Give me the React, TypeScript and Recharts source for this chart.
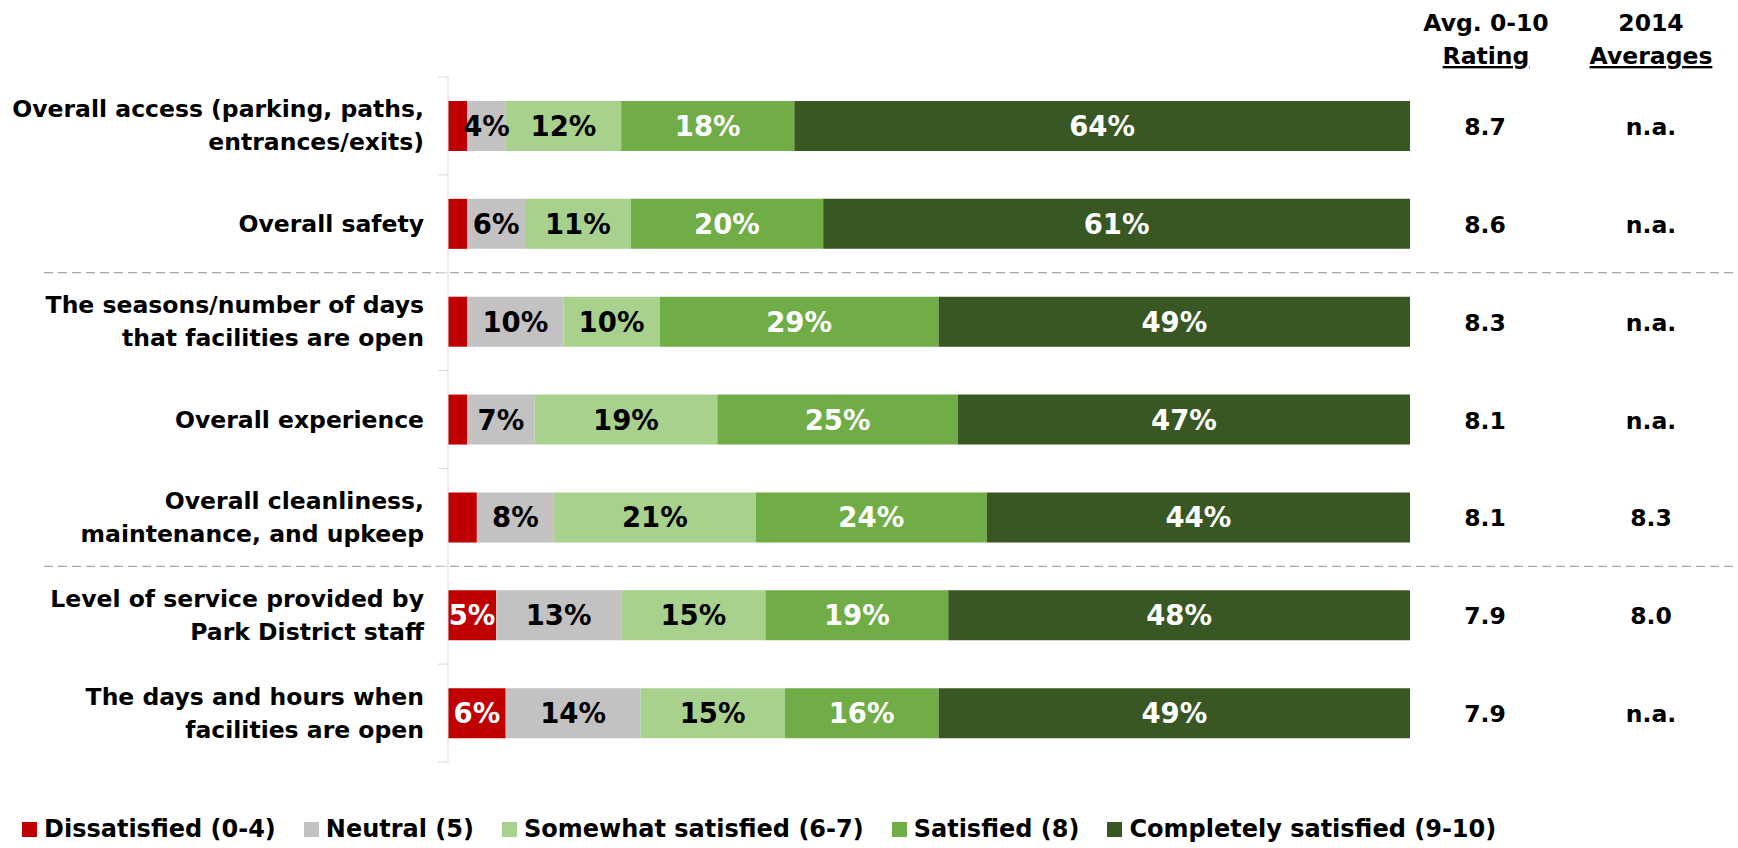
import React from "react";
import {
  BarChart,
  Bar,
  XAxis,
  YAxis,
  Legend,
  LabelList,
  Customized,
} from "recharts";

const categories = [
  "Overall access (parking, paths,\nentrances/exits)",
  "Overall safety",
  "The seasons/number of days\nthat facilities are open",
  "Overall experience",
  "Overall cleanliness,\nmaintenance, and upkeep",
  "Level of service provided by\nPark District staff",
  "The days and hours when\nfacilities are open",
];

const dissatisfied = [2, 2, 2, 2, 3, 5, 6];
const neutral = [4, 6, 10, 7, 8, 13, 14];
const somewhat = [12, 11, 10, 19, 21, 15, 15];
const satisfied = [18, 20, 29, 25, 24, 19, 16];
const completely = [64, 61, 49, 47, 44, 48, 49];

const avgRating = ["8.7", "8.6", "8.3", "8.1", "8.1", "7.9", "7.9"];
const avg2014 = ["n.a.", "n.a.", "n.a.", "n.a.", "8.3", "8.0", "n.a."];

const series = [
  { key: "dissatisfied", name: "Dissatisfied (0-4)", color: "#C00000", text: "#fff", min: 5 },
  { key: "neutral", name: "Neutral (5)", color: "#C3C1C2", text: "#000", min: 3 },
  { key: "somewhat", name: "Somewhat satisfied (6-7)", color: "#A9D18E", text: "#000", min: 3 },
  { key: "satisfied", name: "Satisfied (8)", color: "#70AD47", text: "#fff", min: 3 },
  { key: "completely", name: "Completely satisfied (9-10)", color: "#385723", text: "#fff", min: 3 },
];

const data = categories.map((name, i) => ({
  name,
  dissatisfied: dissatisfied[i],
  neutral: neutral[i],
  somewhat: somewhat[i],
  satisfied: satisfied[i],
  completely: completely[i],
}));

const W = 1738;
const H = 848;
const TOP = 77;
const BOTTOM = 86;
const LEFT_W = 448;
const RIGHT_W = 328;
const HALF_BAND = (H - TOP - BOTTOM) / categories.length / 2;
const FONT = "'DejaVu Sans', Verdana, sans-serif";

const CategoryTick = (props: any) => {
  const { x, y, payload, index } = props;
  const lines = String(payload.value).split("\n");
  const lh = 33;
  const start = y - ((lines.length - 1) * lh) / 2;
  return (
    <g>
      <text
        textAnchor="end"
        fill="#000"
        style={{ fontSize: "23.5px", fontWeight: "bold", fontFamily: FONT }}
      >
        {lines.map((l, i) => (
          <tspan key={i} x={x - 24} y={start + i * lh} dy={8}>
            {l}
          </tspan>
        ))}
      </text>
      <line x1={x - 10} x2={x} y1={y - HALF_BAND} y2={y - HALF_BAND} stroke="#d9d9d9" />
      {index === categories.length - 1 && (
        <line x1={x - 10} x2={x} y1={y + HALF_BAND} y2={y + HALF_BAND} stroke="#d9d9d9" />
      )}
      {(index === 1 || index === 4) && (
        <line
          x1={44}
          x2={W}
          y1={y + HALF_BAND}
          y2={y + HALF_BAND}
          stroke="#a6a6a6"
          strokeWidth={1.3}
          strokeDasharray="9 5"
        />
      )}
    </g>
  );
};

const txt = { fontSize: "23.5px", fontWeight: "bold" as const, fontFamily: FONT };

const RightTick = (props: any) => {
  const { x, y, index } = props;
  return (
    <g>
      <text x={x + 75} y={y} dy={9} textAnchor="middle" fill="#000" style={txt}>
        {avgRating[index]}
      </text>
      <text x={x + 241} y={y} dy={9} textAnchor="middle" fill="#000" style={txt}>
        {avg2014[index]}
      </text>
    </g>
  );
};

const Header = () => (
  <g>
    <text x={1486} y={31} textAnchor="middle" style={txt}>Avg. 0-10</text>
    <text x={1486} y={64} textAnchor="middle" style={{ ...txt, textDecoration: "underline" }}>Rating</text>
    <text x={1651} y={31} textAnchor="middle" style={txt}>2014</text>
    <text x={1651} y={64} textAnchor="middle" style={{ ...txt, textDecoration: "underline" }}>Averages</text>
  </g>
);

const makeLabel = (s: (typeof series)[number]) => (props: any) => {
  const { x, y, width, height, value } = props;
  if (value < s.min) return null;
  return (
    <text
      x={x + width / 2}
      y={y + height / 2}
      dy={10}
      textAnchor="middle"
      fill={s.text}
      style={{ fontSize: "27.5px", fontWeight: "bold", fontFamily: FONT }}
    >
      {value}%
    </text>
  );
};

const LegendContent = () => (
  <div style={{ display: "flex", alignItems: "center" }}>
    {series.map((s) => (
      <div key={s.key} style={{ display: "flex", alignItems: "center", marginRight: 28 }}>
        <span style={{ width: 15, height: 15, background: s.color, display: "inline-block", marginRight: 7 }} />
        <span style={{ fontFamily: FONT, fontWeight: "bold", fontSize: "24px", color: "#000", whiteSpace: "nowrap" }}>
          {s.name}
        </span>
      </div>
    ))}
  </div>
);

export default function App() {
  return (
    <div style={{ position: "absolute", left: 0, top: 0, background: "#fff" }}>
      <BarChart
        width={W}
        height={H}
        data={data}
        layout="vertical"
        margin={{ top: TOP, bottom: BOTTOM, left: 0, right: 0 }}
        barSize={50}
      >
        <XAxis type="number" domain={[0, 100]} hide />
        <YAxis
          yAxisId="left"
          type="category"
          dataKey="name"
          width={LEFT_W}
          axisLine={{ stroke: "#d9d9d9" }}
          tickLine={false}
          tickSize={0}
          tickMargin={0}
          interval={0}
          tick={<CategoryTick />}
        />
        <YAxis
          yAxisId="right"
          orientation="right"
          type="category"
          dataKey="name"
          width={RIGHT_W}
          axisLine={false}
          tickLine={false}
          tickSize={0}
          tickMargin={0}
          interval={0}
          tick={<RightTick />}
        />
        {series.map((s) => (
          <Bar key={s.key} yAxisId="left" dataKey={s.key} name={s.name} stackId="a" fill={s.color} isAnimationActive={false}>
            <LabelList dataKey={s.key} content={makeLabel(s)} />
          </Bar>
        ))}
        <Legend
          layout="horizontal"
          verticalAlign="middle"
          align="center"
          content={<LegendContent />}
          wrapperStyle={{ top: 815, left: 22, width: "auto" }}
        />
        <Customized component={<Header />} />
      </BarChart>
    </div>
  );
}
